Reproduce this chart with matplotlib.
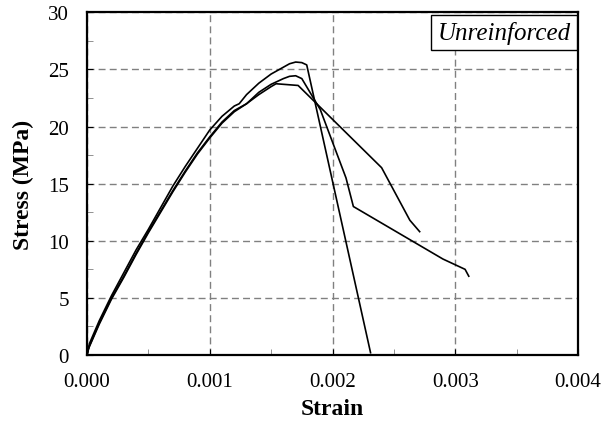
import matplotlib
matplotlib.use("Agg")
import matplotlib.pyplot as plt
from matplotlib.ticker import MultipleLocator

# specimen 1 (highest peak, sudden drop)
strain_a = [0, 0.00002, 0.0001, 0.0002, 0.0003, 0.0004, 0.0005, 0.0006, 0.0007, 0.0008,
            0.0009, 0.001, 0.0011, 0.0012, 0.00124, 0.0013, 0.0014, 0.0015, 0.0016,
            0.00165, 0.0017, 0.00175, 0.00179, 0.00231]
stress_a = [0, 1.0, 3.0, 5.2, 7.2, 9.2, 11.0, 12.9, 14.8, 16.5,
            18.1, 19.7, 20.9, 21.8, 22.0, 22.8, 23.8, 24.6, 25.2,
            25.5, 25.65, 25.6, 25.4, 0.2]

# specimen 2 (middle peak, long tail)
strain_b = [0, 0.00002, 0.0001, 0.0002, 0.0003, 0.0004, 0.0005, 0.0006, 0.0007, 0.0008,
            0.0009, 0.001, 0.0011, 0.0012, 0.0013, 0.00135, 0.0014, 0.0015, 0.0016,
            0.00165, 0.0017, 0.00175, 0.0019, 0.00211, 0.00217, 0.0029, 0.00308, 0.00311]
stress_b = [0, 0.8, 2.8, 5.0, 6.9, 8.9, 10.8, 12.6, 14.4, 16.1,
            17.7, 19.1, 20.4, 21.4, 22.0, 22.5, 23.0, 23.7, 24.2,
            24.4, 24.45, 24.2, 21.5, 15.5, 13.0, 8.4, 7.5, 6.9]

# specimen 3 (flat top)
strain_c = [0, 0.00001, 0.0001, 0.0002, 0.0003, 0.0004, 0.0005, 0.0006, 0.0007, 0.0008,
            0.0009, 0.001, 0.0011, 0.0012, 0.0013, 0.0014, 0.0015, 0.00154, 0.00172,
            0.0024, 0.00263, 0.00271]
stress_c = [0, 0.5, 2.7, 4.9, 6.8, 8.8, 10.7, 12.5, 14.3, 16.0,
            17.6, 19.0, 20.3, 21.3, 22.0, 22.8, 23.5, 23.75, 23.6,
            16.4, 11.8, 10.8]

x_ticks = [0.000, 0.001, 0.002, 0.003, 0.004]
y_ticks = [0, 5, 10, 15, 20, 25, 30]

plt.rcParams["font.family"] = ["Liberation Serif", "DejaVu Serif"]

fig = plt.figure(figsize=(6.04, 4.31), dpi=100)
ax = fig.add_axes([0.144, 0.174, 0.813, 0.795])

for x, y in [(strain_a, stress_a), (strain_b, stress_b), (strain_c, stress_c)]:
    ax.plot(x, y, color="black", lw=1.2)

ax.set_xlim(0, 0.004)
ax.set_ylim(0, 30)
ax.set_xticks(x_ticks)
ax.set_xticklabels(["%.3f" % v for v in x_ticks])
ax.set_yticks(y_ticks)
ax.xaxis.set_minor_locator(MultipleLocator(0.0005))
ax.yaxis.set_minor_locator(MultipleLocator(2.5))
ax.tick_params(which="both", direction="in", labelsize=15)
ax.tick_params(axis="x", pad=12)
ax.tick_params(axis="y", pad=13)
ax.tick_params(which="major", length=4)
ax.tick_params(which="minor", length=4, color="gray")
ax.grid(True, which="major", color="gray", linestyle=(0, (5, 3)), lw=1)

for s in ax.spines.values():
    s.set_linewidth(1.6)

ax.set_xlabel("Strain", fontsize=17, fontweight="bold")
ax.set_ylabel("Stress (MPa)", fontsize=17, fontweight="bold")
ax.xaxis.set_label_coords(0.5, -0.125)
ax.yaxis.set_label_coords(-0.108, 0.5)

ax.text(0.985, 0.975, "Unreinforced", transform=ax.transAxes, ha="right", va="top",
        fontsize=18, fontstyle="italic",
        bbox=dict(boxstyle="square,pad=0.25", fc="white", ec="black", lw=1))

fig.savefig("out.png", dpi=100)
